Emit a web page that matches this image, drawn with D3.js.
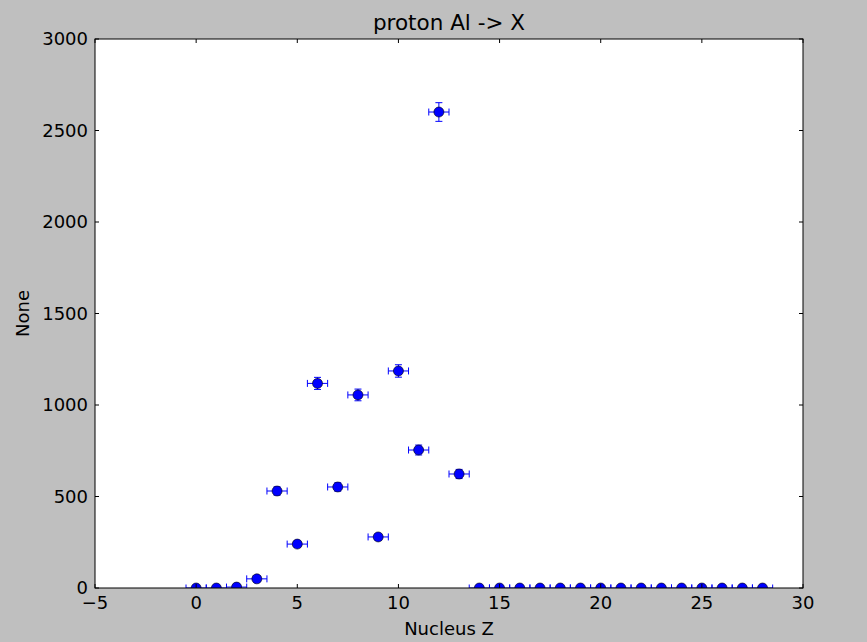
<!DOCTYPE html>
<html>
<head>
<meta charset="utf-8">
<script src="https://cdn.jsdelivr.net/npm/d3@7"></script>
<style>
  body { margin: 0; background: #bfbfbf; }
  text { font-family: "DejaVu Sans", sans-serif; fill: #000; }
</style>
</head>
<body>
<script>
/* width and height */
var w = 867;
var h = 642;
var margin = {left: 95, right: 64, top: 39, bottom: 54};

// data
var nucleusZ = [0,1,2,3,4,5,6,7,8,9,10,11,12,13,14,15,16,17,18,19,20,21,22,23,24,25,26,27,28];
var counts   = [0,0,5,50,530,240,1118,552,1055,279,1186,754,2601,623,0,0,0,0,0,0,0,0,0,0,0,0,0,0,0];
var yErr     = [0,0,2,7,23,15,33,23,32,17,34,27,51,25,0,0,0,0,0,0,0,0,0,0,0,0,0,0,0];
var xErr     = 0.5;

var xTicks = [-5,0,5,10,15,20,25,30];
var yTicks = [0,500,1000,1500,2000,2500,3000];

var svg = d3.select("body").append("svg")
    .attr("width", w)
    .attr("height", h);

svg.append("rect").attr("width", w).attr("height", h).attr("fill", "#bfbfbf");

var xScale = d3.scaleLinear().domain([-5, 30]).range([margin.left, w - margin.right]);
var yScale = d3.scaleLinear().domain([0, 3000]).range([h - margin.bottom, margin.top]);

var x0 = xScale.range()[0], x1 = xScale.range()[1];
var y0 = yScale.range()[0], y1 = yScale.range()[1];

// plot area
svg.append("rect")
    .attr("x", x0).attr("y", y1)
    .attr("width", x1 - x0).attr("height", y0 - y1)
    .attr("fill", "#fff");

var plot = svg.append("g");

var data = nucleusZ.map(function(z, i) { return {z: z, n: counts[i], e: yErr[i]}; });

var pts = plot.selectAll("g.pt").data(data).enter().append("g").attr("class", "pt");

// horizontal error bars
pts.append("line")
    .attr("x1", function(d) { return xScale(d.z - xErr); })
    .attr("x2", function(d) { return xScale(d.z + xErr); })
    .attr("y1", function(d) { return yScale(d.n); })
    .attr("y2", function(d) { return yScale(d.n); })
    .attr("stroke", "#0000ff").attr("stroke-width", 1);
[-1, 1].forEach(function(s) {
    pts.append("line")
        .attr("x1", function(d) { return xScale(d.z + s * xErr); })
        .attr("x2", function(d) { return xScale(d.z + s * xErr); })
        .attr("y1", function(d) { return yScale(d.n) - 3.5; })
        .attr("y2", function(d) { return yScale(d.n) + 3.5; })
        .attr("stroke", "#0000ff").attr("stroke-width", 1);
});

// vertical error bars
pts.append("line")
    .attr("x1", function(d) { return xScale(d.z); })
    .attr("x2", function(d) { return xScale(d.z); })
    .attr("y1", function(d) { return yScale(d.n - d.e); })
    .attr("y2", function(d) { return yScale(d.n + d.e); })
    .attr("stroke", "#0000ff").attr("stroke-width", 1);
[-1, 1].forEach(function(s) {
    pts.filter(function(d) { return d.e > 0; }).append("line")
        .attr("x1", function(d) { return xScale(d.z) - 3.5; })
        .attr("x2", function(d) { return xScale(d.z) + 3.5; })
        .attr("y1", function(d) { return yScale(d.n + s * d.e); })
        .attr("y2", function(d) { return yScale(d.n + s * d.e); })
        .attr("stroke", "#0000ff").attr("stroke-width", 1);
});

// markers
pts.append("circle")
    .attr("cx", function(d) { return xScale(d.z); })
    .attr("cy", function(d) { return yScale(d.n); })
    .attr("r", 5)
    .attr("fill", "#0000ff")
    .attr("stroke", "#000").attr("stroke-width", 0.6);

// clip marks to the axes box
svg.append("defs").append("clipPath").attr("id", "clip")
    .append("rect").attr("x", x0).attr("y", y1).attr("width", x1 - x0).attr("height", y0 - y1);
plot.attr("clip-path", "url(#clip)");

// axes: ticks inside on all four sides
var tickLen = 4;
var ax = svg.append("g");
xTicks.forEach(function(t) {
    var x = xScale(t);
    ax.append("line").attr("x1", x).attr("x2", x).attr("y1", y0).attr("y2", y0 - tickLen).attr("stroke", "#000");
    ax.append("line").attr("x1", x).attr("x2", x).attr("y1", y1).attr("y2", y1 + tickLen).attr("stroke", "#000");
    ax.append("text").attr("x", x).attr("y", y0 + 21)
        .attr("text-anchor", "middle").attr("font-size", 18)
        .text(t < 0 ? "\u2212" + Math.abs(t) : t);
});
yTicks.forEach(function(t) {
    var y = yScale(t);
    ax.append("line").attr("x1", x0).attr("x2", x0 + tickLen).attr("y1", y).attr("y2", y).attr("stroke", "#000");
    ax.append("line").attr("x1", x1).attr("x2", x1 - tickLen).attr("y1", y).attr("y2", y).attr("stroke", "#000");
    ax.append("text").attr("x", x0 - 7).attr("y", y + 6)
        .attr("text-anchor", "end").attr("font-size", 18)
        .text(t);
});

// frame
svg.append("rect")
    .attr("x", x0).attr("y", y1)
    .attr("width", x1 - x0).attr("height", y0 - y1)
    .attr("fill", "none").attr("stroke", "#000").attr("stroke-width", 1);

// title and labels
svg.append("text").attr("x", (x0 + x1) / 2).attr("y", 30)
    .attr("text-anchor", "middle").attr("font-size", 21.5)
    .text("proton Al -> X");
svg.append("text").attr("x", (x0 + x1) / 2).attr("y", 635)
    .attr("text-anchor", "middle").attr("font-size", 18)
    .text("Nucleus Z");
svg.append("text")
    .attr("transform", "translate(29," + ((y0 + y1) / 2) + ") rotate(-90)")
    .attr("text-anchor", "middle").attr("font-size", 18)
    .text("None");
</script>
</body>
</html>
